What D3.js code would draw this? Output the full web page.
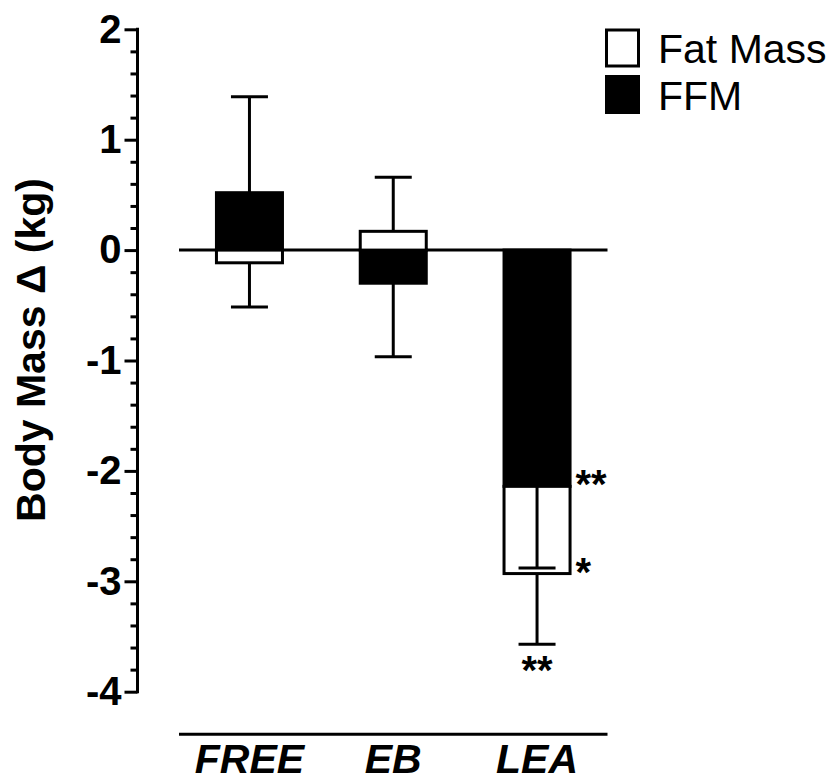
<!DOCTYPE html>
<html>
<head>
<meta charset="utf-8">
<script src="https://cdn.jsdelivr.net/npm/d3@7"></script>
<style>
  html, body { margin: 0; padding: 0; background: #fff; }
  svg { display: block; font-family: "Liberation Sans", Arial, Helvetica, sans-serif; }
</style>
</head>
<body>
<svg id="chart" width="829" height="778"></svg>
<script>
// Groups and stacked components (kg change)
const groups = ["FREE", "EB", "LEA"];
const seriesKeys = ["FFM", "Fat Mass"];
const ffmMean = [0.52, -0.30, -2.14];
const fatMean = [-0.115, 0.17, -0.79];
const ffmSD = [0.87, 0.665, 0.74];
const fatSD = [0.40, 0.49, 0.64];
const yTicks = [2, 1, 0, -1, -2, -3, -4];
const legendLabels = ["Fat Mass", "FFM"];
// Significance marks: [group, series]
const sigMarks = [
  { group: "LEA", series: "FFM", text: "**", where: "side" },
  { group: "LEA", series: "Fat Mass", text: "*", where: "side" },
  { group: "LEA", series: "Fat Mass", text: "**", where: "below" }
];

const rows = groups.map((g, i) => ({
  group: g,
  "FFM": ffmMean[i],
  "Fat Mass": fatMean[i],
  sd: { "FFM": ffmSD[i], "Fat Mass": fatSD[i] }
}));

const svg = d3.select("#chart");
const SW = 3;

const x = d3.scaleBand().domain(groups).range([179, 607.5])
  .paddingInner(0.52).paddingOuter(0.25);
const y = d3.scaleLinear().domain([-4, 2]).range([691.7, 29.3]);

const stack = d3.stack().keys(seriesKeys).offset(d3.stackOffsetDiverging);
const layers = stack(rows);
const fillOf = { "FFM": "#000", "Fat Mass": "#fff" };

// Y axis: major and minor ticks
const axisX = 137.5;
const minorVals = d3.range(-4, 2.0001, 0.2).map(v => +v.toFixed(1))
  .filter(v => !yTicks.includes(v));
const gMinor = svg.append("g").attr("transform", `translate(${axisX},0)`)
  .call(d3.axisLeft(y).tickValues(minorVals).tickSize(7).tickFormat(""));
const gMajor = svg.append("g").attr("transform", `translate(${axisX},0)`)
  .call(d3.axisLeft(y).tickValues(yTicks).tickSize(13).tickPadding(3)
    .tickFormat(d => String(d)));
[gMinor, gMajor].forEach(g => {
  g.select(".domain").remove();
  g.selectAll(".tick line").attr("stroke", "#000").attr("stroke-width", SW);
});
gMajor.selectAll(".tick text")
  .attr("fill", "#000").attr("font-size", 40).attr("font-weight", "bold")
  .attr("font-family", "'Liberation Sans', Arial, sans-serif");
svg.append("line")
  .attr("x1", axisX).attr("x2", axisX)
  .attr("y1", y(2) - SW / 2).attr("y2", y(-4) + SW / 2)
  .attr("stroke", "#000").attr("stroke-width", SW);

// Y axis title
svg.append("text")
  .attr("transform", "translate(45,350) rotate(-90)")
  .attr("text-anchor", "middle")
  .attr("font-size", 41).attr("font-weight", "bold")
  .text("Body Mass \u0394 (kg)");

// Zero line
svg.append("line")
  .attr("x1", x.range()[0]).attr("x2", x.range()[1])
  .attr("y1", y(0)).attr("y2", y(0))
  .attr("stroke", "#000").attr("stroke-width", SW);

// Stacked bars
const bw = x.bandwidth() - SW;
layers.forEach(layer => {
  svg.append("g").selectAll("rect").data(layer).join("rect")
    .attr("x", d => x(d.data.group) + SW / 2)
    .attr("width", bw)
    .attr("y", d => y(d[1]))
    .attr("height", d => y(d[0]) - y(d[1]))
    .attr("fill", fillOf[layer.key])
    .attr("stroke", "#000").attr("stroke-width", SW);
});

// Error bars from the outer end of each segment
const capHalf = 18.5;
layers.forEach(layer => {
  layer.forEach(d => {
    const v = d.data[layer.key];
    const sd = d.data.sd[layer.key];
    const from = v >= 0 ? d[1] : d[0];
    const to = v >= 0 ? d[1] + sd : d[0] - sd;
    const cx = x(d.data.group) + x.bandwidth() / 2;
    const g = svg.append("g").attr("stroke", "#000").attr("stroke-width", SW);
    g.append("line").attr("x1", cx).attr("x2", cx)
      .attr("y1", y(from)).attr("y2", y(to));
    g.append("line").attr("x1", cx - capHalf).attr("x2", cx + capHalf)
      .attr("y1", y(to)).attr("y2", y(to));
  });
});

// Significance asterisks
sigMarks.forEach(m => {
  const layer = layers.find(l => l.key === m.series);
  const d = layer.find(p => p.data.group === m.group);
  const v = d.data[m.series];
  const end = v >= 0 ? d[1] : d[0];
  const cx = x(m.group) + x.bandwidth() / 2;
  const t = svg.append("text").attr("font-size", 40).attr("font-weight", "bold").text(m.text);
  if (m.where === "side") {
    t.attr("x", x(m.group) + x.bandwidth() + 4).attr("y", y(end) + 12);
  } else {
    const tip = end - d.data.sd[m.series];
    t.attr("x", cx).attr("text-anchor", "middle").attr("y", y(tip) + 40);
  }
});

// Bottom category axis
svg.append("line")
  .attr("x1", x.range()[0]).attr("x2", x.range()[1])
  .attr("y1", 734.3).attr("y2", 734.3)
  .attr("stroke", "#000").attr("stroke-width", SW);
svg.append("g").selectAll("text").data(groups).join("text")
  .attr("x", d => x(d) + x.bandwidth() / 2)
  .attr("y", 773)
  .attr("text-anchor", "middle")
  .attr("font-size", 41).attr("font-weight", "bold").attr("font-style", "italic")
  .text(d => d);

// Legend
const legend = svg.append("g").attr("transform", "translate(606.5,30)");
const legendFill = { "Fat Mass": "#fff", "FFM": "#000" };
legendLabels.forEach((lab, i) => {
  const gy = i * 46.5;
  legend.append("rect")
    .attr("x", 0).attr("y", gy).attr("width", 32).attr("height", 36)
    .attr("fill", legendFill[lab]).attr("stroke", "#000").attr("stroke-width", SW);
  legend.append("text")
    .attr("x", 51.5).attr("y", gy + 33)
    .attr("font-size", 41)
    .text(lab);
});
</script>
</body>
</html>
